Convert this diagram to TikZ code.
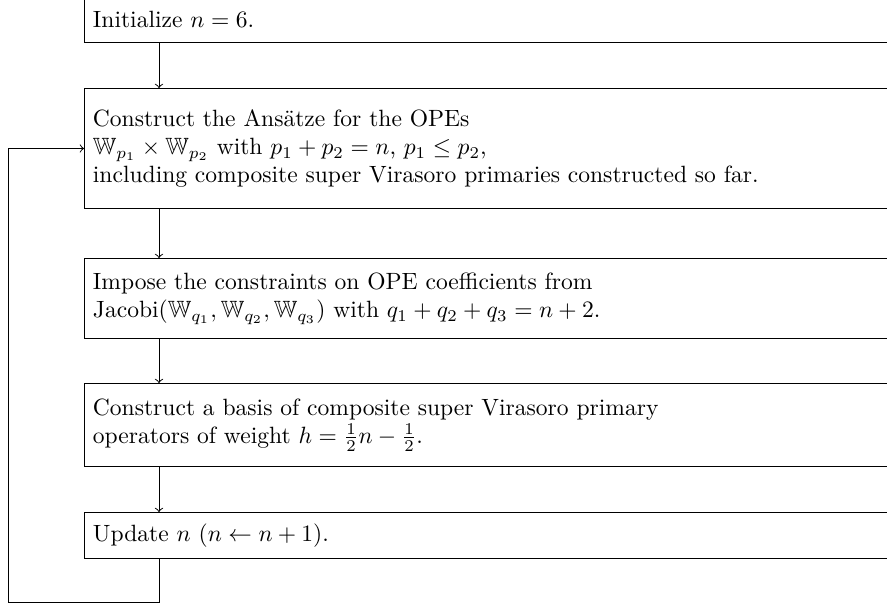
\documentclass[tikz,border=0pt]{standalone}
\usepackage{amsmath,amssymb}
\usetikzlibrary{calc}
\begin{document}
\begin{tikzpicture}[x=0.4248pt,y=-0.4248pt,
  stepbox/.style={draw, anchor=north west, text width=340pt, align=left,
    inner sep=3.6pt, font=\normalsize},
  conn/.style={->}]
\useasboundingbox (0,0) rectangle (887,608);
\node[stepbox, minimum height=19.54pt] (b1) at (84,-4) {Initialize $n=6$.};
\node[stepbox, minimum height=50.98pt] (b2) at (84,88) {Construct the Ans\"atze for the OPEs\\
$\mathbb{W}_{p_1}\times\mathbb{W}_{p_2}$ with $p_1+p_2=n$, $p_1\leq p_2$,\\
including composite super Virasoro primaries constructed so far.};
\node[stepbox, minimum height=33.98pt] (b3) at (84,258) {Impose the constraints on OPE coefficients from\\
Jacobi$(\mathbb{W}_{q_1},\mathbb{W}_{q_2},\mathbb{W}_{q_3})$ with $q_1+q_2+q_3=n+2$.};
\node[stepbox, minimum height=35.26pt] (b4) at (84,383) {Construct a basis of composite super Virasoro primary\\
operators of weight $h=\frac{1}{2}n-\frac{1}{2}$.};
\node[stepbox, minimum height=19.54pt] (b5) at (84,512) {Update $n$ ($n\leftarrow n+1$).};
\coordinate (loopc) at (8,602);
\draw[conn] ([xshift=31.86pt]b1.south west) -- ([xshift=31.86pt]b2.north west);
\draw[conn] ([xshift=31.86pt]b2.south west) -- ([xshift=31.86pt]b3.north west);
\draw[conn] ([xshift=31.86pt]b3.south west) -- ([xshift=31.86pt]b4.north west);
\draw[conn] ([xshift=31.86pt]b4.south west) -- ([xshift=31.86pt]b5.north west);
\draw[conn] ([xshift=31.86pt]b5.south west) |- (loopc) |- (b2.west);
\end{tikzpicture}
\end{document}
